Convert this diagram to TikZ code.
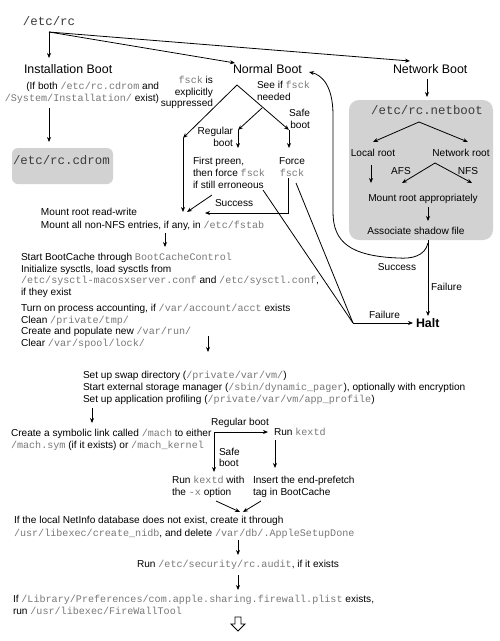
\documentclass[tikz,border=0pt]{standalone}
\usepackage{fontspec}
\setmainfont{Liberation Sans}
\setmonofont{Liberation Mono}
\usetikzlibrary{arrows.meta}
\definecolor{boxgray}{RGB}{210,210,210}
\definecolor{monogray}{RGB}{120,120,120}
\definecolor{headmono}{RGB}{60,60,60}
\newcommand{\mtt}[1]{{\ttfamily\color{monogray}#1}}
\newcommand{\htt}[1]{{\ttfamily\color{headmono}#1}}
\begin{document}
\begin{tikzpicture}[x=1pt,y=-1pt,
  every node/.style={inner sep=0pt,outer sep=0pt},
  txt/.style={font=\fontsize{10.1}{12}\selectfont,anchor=base west},
  txtc/.style={font=\fontsize{10.1}{12}\selectfont,anchor=base},
  txte/.style={font=\fontsize{10.1}{12}\selectfont,anchor=base east},
  head/.style={font=\fontsize{12.4}{14}\selectfont,anchor=base west},
  headc/.style={font=\fontsize{12.4}{14}\selectfont,anchor=base},
  arr/.style={-{Stealth[length=5pt,width=4pt]},line width=0.8pt},
  ln/.style={line width=0.8pt},
  gbox/.style={fill=boxgray,draw=none}]
\fill[white] (0,0) rectangle (500,641);
\useasboundingbox (0,0) rectangle (500,641);

% gray boxes
\fill[gbox,rounded corners=6pt] (12,148) rectangle (113,184);
\fill[gbox,rounded corners=10pt] (349,100) rectangle (493,240);

% headings
\node[head] (rc) at (23,25) {\htt{/etc/rc}};
\node[head] (inst) at (24,73.5) {Installation Boot};
\node[head] (normal) at (233,73.5) {Normal Boot};
\node[head] (net) at (393,73.5) {Network Boot};
\node[head] (cdrom) at (13,164.5) {\htt{/etc/rc.cdrom}};
\node[headc] (netboot) at (427,114.5) {\htt{/etc/rc.netboot}};
\node[font=\bfseries\fontsize{12.4}{14}\selectfont,anchor=base west] (halt) at (416,327.5) {Halt};

% installation texts
\node[txte] (if1) at (159,89.5) {(If both \mtt{/etc/rc.cdrom} and};
\node[txte] (if2) at (159,101.5) {\mtt{/System/Installation/} exist)};

% normal boot texts
\node[txte] (sup1) at (213,83.5) {\mtt{fsck} is};
\node[txte] (sup2) at (213,95) {explicitly};
\node[txte] (sup3) at (213,106.5) {suppressed};
\node[txt] (see1) at (257,88.5) {See if \mtt{fsck}};
\node[txt] (see2) at (257,100.5) {needed};
\node[txte] (reg1) at (233,134) {Regular};
\node[txte] (reg2) at (233,146) {boot};
\node[txte] (safe1) at (310,116.5) {Safe};
\node[txte] (safe2) at (310,128) {boot};
\node[txt] (fp1) at (193,164.5) {First preen,};
\node[txt] (fp2) at (193,176.5) {then force \mtt{fsck}};
\node[txt] (fp3) at (193,188.5) {if still erroneous};
\node[txtc] (ff1) at (292,164) {Force};
\node[txtc] (ff2) at (292,176) {\mtt{fsck}};
\node[txt] (succ1) at (215,206.5) {Success};

% network boot texts
\node[txtc] (local) at (373,156.5) {Local root};
\node[txtc] (netroot) at (461,156.5) {Network root};
\node[txtc] (afs) at (401,174.5) {AFS};
\node[txtc] (nfs) at (468,174.5) {NFS};
\node[txtc] (mountapp) at (423,201.5) {Mount root appropriately};
\node[txtc] (shadow) at (416,234.5) {Associate shadow file};
\node[txtc] (succ2) at (397,270.5) {Success};
\node[txt] (fail1) at (431,290.5) {Failure};
\node[txt] (fail2) at (369,318.5) {Failure};

% main column
\node[txt] (m1) at (41,215.5) {Mount root read-write};
\node[txt] (m2) at (41,228.5) {Mount all non-NFS entries, if any, in \mtt{/etc/fstab}};
\node[txt] (b1) at (21,260.5) {Start BootCache through \mtt{BootCacheControl}};
\node[txt] (b2) at (21,272) {Initialize sysctls, load sysctls from};
\node[txt] (b3) at (21,283.5) {\mtt{/etc/sysctl-macosxserver.conf} and \mtt{/etc/sysctl.conf},};
\node[txt] (b4) at (21,295) {if they exist};
\node[txt] (c1) at (21,311.5) {Turn on process accounting, if \mtt{/var/account/acct} exists};
\node[txt] (c2) at (21,323) {Clean \mtt{/private/tmp/}};
\node[txt] (c3) at (21,334.5) {Create and populate new \mtt{/var/run/}};
\node[txt] (c4) at (21,346) {Clear \mtt{/var/spool/lock/}};
\node[txt] (d1) at (83,378) {Set up swap directory (\mtt{/private/var/vm/})};
\node[txt] (d2) at (83,390) {Start external storage manager (\mtt{/sbin/dynamic\_pager}), optionally with encryption};
\node[txt] (d3) at (83,402) {Set up application profiling (\mtt{/private/var/vm/app\_profile})};
\node[txt] (e1) at (11,436.5) {Create a symbolic link called \mtt{/mach} to either};
\node[txt] (e2) at (11,448) {\mtt{/mach.sym} (if it exists) or \mtt{/mach\_kernel}};
\node[txtc] (regb) at (240,425.5) {Regular boot};
\node[txt] (runk) at (274,435.5) {Run \mtt{kextd}};
\node[txt] (sb1) at (219,455.5) {Safe};
\node[txt] (sb2) at (219,466.5) {boot};
\node[txt] (rx1) at (172,483.5) {Run \mtt{kextd} with};
\node[txt] (rx2) at (172,495.5) {the \mtt{-x} option};
\node[txt] (ins1) at (253,483.5) {Insert the end-prefetch};
\node[txt] (ins2) at (253,495.5) {tag in BootCache};
\node[txt] (n1) at (14,523.5) {If the local NetInfo database does not exist, create it through};
\node[txt] (n2) at (14,536) {\mtt{/usr/libexec/create\_nidb}, and delete \mtt{/var/db/.AppleSetupDone}};
\node[txtc] (audit) at (238,567.5) {Run \mtt{/etc/security/rc.audit}, if it exists};
\node[txt] (fw1) at (13,602.5) {If \mtt{/Library/Preferences/com.apple.sharing.firewall.plist} exists,};
\node[txt] (fw2) at (13,614) {run \mtt{/usr/libexec/FireWallTool}};

% coordinates
\coordinate (p0) at (49,32);
\coordinate (pinst) at (49,58);
\coordinate (pnorm) at (235,63);
\coordinate (pnet) at (410,61);
\coordinate (ia) at (49,108);
\coordinate (ib) at (49,142);
\coordinate (apex) at (237,85);
\coordinate (lc) at (183,138);
\coordinate (lb) at (183,212);
\coordinate (jn) at (262,108);
\coordinate (rc1) at (238,130);
\coordinate (rc2) at (238,148);
\coordinate (sc1) at (289,130);
\coordinate (sc2) at (289,148);
\coordinate (fpa) at (212,195);
\coordinate (fpb) at (187,212);
\coordinate (fa) at (288,178);
\coordinate (fb) at (288,213);
\coordinate (fc) at (205,213);
\coordinate (h1) at (263,190);
\coordinate (h2) at (296,183);
\coordinate (hj) at (353,323);
\coordinate (hk) at (413,323);
\coordinate (na) at (427,79);
\coordinate (nb) at (427,97);
\coordinate (nf) at (419,122);
\coordinate (nl) at (373,142);
\coordinate (nr) at (468,142);
\coordinate (la) at (371,165);
\coordinate (lb2) at (371,183);
\coordinate (ra) at (435,163);
\coordinate (rl) at (402,183);
\coordinate (rr) at (472,183);
\coordinate (ma) at (428,207);
\coordinate (mb) at (428,221);
\coordinate (sa) at (428,240);
\coordinate (sb) at (428,316);
\coordinate (sc) at (428,243);
\coordinate (st) at (309,72);
\coordinate (ka) at (165,233);
\coordinate (kb) at (165,247);
\coordinate (qa) at (208,336);
\coordinate (qb) at (208,352);
\coordinate (ua) at (92,408);
\coordinate (ub) at (92,423);
\coordinate (rg) at (214,432);
\coordinate (rgr) at (268,432);
\coordinate (rgd) at (214,472);
\coordinate (ka2) at (275,440);
\coordinate (kb2) at (275,468);
\coordinate (cl) at (216,501);
\coordinate (cr) at (261,501);
\coordinate (cm1) at (240,512);
\coordinate (cm2) at (243,512);
\coordinate (aa) at (238,540);
\coordinate (ab) at (238,555);
\coordinate (ac) at (238,575);
\coordinate (ad) at (238,590);

% connectors from /etc/rc
\draw[arr] (p0) -- (pinst);
\draw[arr] (p0) -- (pnorm);
\draw[arr] (p0) -- (pnet);
\draw[arr] (ia) -- (ib);

% normal boot
\draw[arr] (apex) -- (lc);
\draw[arr] (lc) -- (lb);
\draw[arr] (apex) -- (sc1);
\draw[arr] (jn) -- (rc1);
\draw[arr] (rc1) -- (rc2);
\draw[arr] (sc1) -- (sc2);
\draw[arr] (fpa) -- (fpb);
\draw[arr] (fa) -- (fb) -- (fc);
\draw[ln] (h1) -- (hj);
\draw[ln] (h2) -- (hj);
\draw[arr] (hj) -- (hk);

% network boot
\draw[arr] (na) -- (nb);
\draw[arr] (nf) -- (nl);
\draw[arr] (nf) -- (nr);
\draw[arr] (la) -- (lb2);
\draw[arr] (ra) -- (rl);
\draw[arr] (ra) -- (rr);
\draw[arr] (ma) -- (mb);
\draw[arr] (sa) -- (sb);
\draw[arr] (sc) .. controls (425,256) and (412,259) .. (398,258)
  .. controls (350,256) and (333,242) .. (333,212) -- (333,115)
  .. controls (333,86) and (322,75) .. (st);

% main column
\draw[arr] (ka) -- (kb);
\draw[arr] (qa) -- (qb);
\draw[arr] (ua) -- (ub);
\draw[arr] (rg) -- (rgr);
\draw[arr] (rg) -- (rgd);
\draw[arr] (ka2) -- (kb2);
\draw[arr] (cl) -- (cm1);
\draw[arr] (cr) -- (cm2);
\draw[arr] (aa) -- (ab);
\draw[arr] (ac) -- (ad);

% hollow arrow
\draw[line width=0.8pt,line join=miter] (235,617) -- (241,617) -- (241,624) -- (245,624)
  -- (238,631) -- (231,624) -- (235,624) -- cycle;
\end{tikzpicture}
\end{document}
